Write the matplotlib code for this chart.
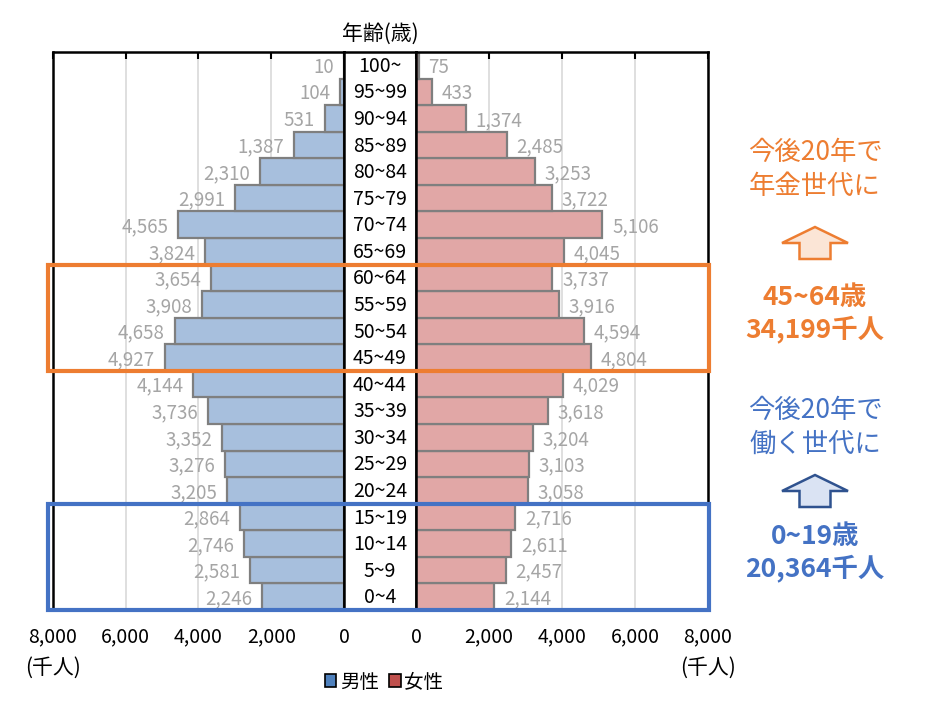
import matplotlib
matplotlib.use("Agg")
import matplotlib.pyplot as plt
from matplotlib.patches import Rectangle, Polygon, Patch
import numpy as np

plt.rcParams["font.family"] = ["Noto Sans CJK JP", "DejaVu Sans"]

# =====================================================
#                        Data
# =====================================================
age_groups = ["0~4", "5~9", "10~14", "15~19", "20~24", "25~29", "30~34",
              "35~39", "40~44", "45~49", "50~54", "55~59", "60~64", "65~69",
              "70~74", "75~79", "80~84", "85~89", "90~94", "95~99", "100~"]
male = [2246, 2581, 2746, 2864, 3205, 3276, 3352, 3736, 4144, 4927, 4658,
        3908, 3654, 3824, 4565, 2991, 2310, 1387, 531, 104, 10]
female = [2144, 2457, 2611, 2716, 3058, 3103, 3204, 3618, 4029, 4804, 4594,
          3916, 3737, 4045, 5106, 3722, 3253, 2485, 1374, 433, 75]
xticks = [0, 2000, 4000, 6000, 8000]

W, H = 929, 715
BLUE_BAR = "#A7BFDD"
PINK_BAR = "#E1A7A6"
EDGE = "#7F7F7F"
LABEL_GRAY = "#A5A5A5"
ORANGE = "#ED7D31"
BLUE = "#4472C4"


def fx(px):
    return px / W


def fy(py):
    return 1 - py / H


top, bottom = 52, 610
ax_h = (bottom - top) / H
fig = plt.figure(figsize=(W / 100, H / 100), dpi=100)
ax_l = fig.add_axes([fx(53), fy(bottom), fx(344) - fx(53), ax_h])
ax_c = fig.add_axes([fx(344), fy(bottom), fx(416) - fx(344), ax_h])
ax_r = fig.add_axes([fx(416), fy(bottom), fx(708) - fx(416), ax_h])

y = np.arange(len(age_groups))

# =====================================================
#                     Bars + labels
# =====================================================
for ax, vals, col, sign in [(ax_l, male, BLUE_BAR, -1), (ax_r, female, PINK_BAR, 1)]:
    ax.barh(y, vals, height=1.0, color=col, edgecolor=EDGE, linewidth=1.6, zorder=2)
    for yi, v in zip(y, vals):
        ax.annotate(f"{v:,}", (v, yi), xytext=(sign * 7, -1.5), textcoords="offset points",
                    ha="right" if sign < 0 else "left", va="center",
                    color=LABEL_GRAY, fontsize=13.5)
    ax.set_ylim(-0.5, len(age_groups) - 0.5)
    ax.set_xticks(xticks)
    ax.set_xticklabels([f"{t:,}" for t in xticks], fontsize=14)
    ax.set_yticks([])
    ax.grid(axis="x", color="#D9D9D9", linewidth=1.2, zorder=0)
    ax.set_axisbelow(True)
    ax.tick_params(axis="x", top=True, bottom=False, direction="in", length=5,
                   width=1.5, labelbottom=True, pad=12)
    for s in ax.spines.values():
        s.set_linewidth(1.8)
        s.set_color("black")

ax_l.set_xlim(8000, 0)
ax_r.set_xlim(0, 8000)

# centre column with age labels
ax_c.set_xlim(0, 1)
ax_c.set_ylim(-0.5, len(age_groups) - 0.5)
ax_c.set_xticks([])
ax_c.set_yticks([])
for s in ax_c.spines.values():
    s.set_linewidth(1.8)
for yi, a in zip(y, age_groups):
    ax_c.text(0.5, yi - 0.04, a, ha="center", va="center", fontsize=14, color="black")

fig.text(fx(380), fy(34), "年齢(歳)", ha="center", va="center", fontsize=15)
fig.text(fx(53), fy(668), "(千人)", ha="center", va="center", fontsize=15)
fig.text(fx(708), fy(668), "(千人)", ha="center", va="center", fontsize=15)

# legend
handles = [Patch(facecolor="#4F81BD", edgecolor="black", linewidth=1.2),
           Patch(facecolor="#C0504D", edgecolor="black", linewidth=1.2)]
fig.legend(handles, ["男性", "女性"], loc="center", bbox_to_anchor=(fx(384), fy(682)),
           ncol=2, frameon=False, handlelength=0.6, handleheight=0.6,
           handletextpad=0.2, columnspacing=0.5, fontsize=14)

# =====================================================
#              Highlight boxes (overlay)
# =====================================================
ax_o = fig.add_axes([fx(48), fy(bottom), fx(709) - fx(48), ax_h])
ax_o.set_xlim(0, 1)
ax_o.set_ylim(-0.5, len(age_groups) - 0.5)
ax_o.axis("off")
i45, i60 = age_groups.index("45~49"), age_groups.index("60~64")
i0, i15 = age_groups.index("0~4"), age_groups.index("15~19")
ax_o.add_patch(Rectangle((0, i45 - 0.5), 1, i60 - i45 + 1, fill=False,
                         edgecolor=ORANGE, linewidth=3, clip_on=False, zorder=5))
ax_o.add_patch(Rectangle((0, i0 - 0.5), 1, i15 - i0 + 1, fill=False,
                         edgecolor=BLUE, linewidth=3, clip_on=False, zorder=5))


# =====================================================
#              Right-side notes + arrows
# =====================================================
def up_arrow(cx, ytop, face, edge):
    pts = [(cx, ytop), (cx + 33, ytop + 16), (cx + 15.5, ytop + 16),
           (cx + 15.5, ytop + 32), (cx - 15.5, ytop + 32), (cx - 15.5, ytop + 16),
           (cx - 33, ytop + 16)]
    fig.patches.append(Polygon([(fx(px), fy(py)) for px, py in pts], closed=True,
                               transform=fig.transFigure, facecolor=face,
                               edgecolor=edge, linewidth=1.8))


cx = 815
fig.text(fx(cx), fy(152), "今後20年で", ha="center", va="center", color=ORANGE, fontsize=19)
fig.text(fx(cx), fy(186), "年金世代に", ha="center", va="center", color=ORANGE, fontsize=19)
up_arrow(cx, 227, "#FBE5D6", ORANGE)
fig.text(fx(cx), fy(297), "45~64歳", ha="center", va="center", color=ORANGE,
         fontsize=19, fontweight="bold")
fig.text(fx(cx), fy(329), "34,199千人", ha="center", va="center", color=ORANGE,
         fontsize=19, fontweight="bold")

fig.text(fx(cx), fy(411), "今後20年で", ha="center", va="center", color=BLUE, fontsize=19)
fig.text(fx(cx), fy(444), "働く世代に", ha="center", va="center", color=BLUE, fontsize=19)
up_arrow(cx, 475, "#DAE3F3", "#2F528F")
fig.text(fx(cx), fy(537), "0~19歳", ha="center", va="center", color=BLUE,
         fontsize=19, fontweight="bold")
fig.text(fx(cx), fy(568), "20,364千人", ha="center", va="center", color=BLUE,
         fontsize=19, fontweight="bold")

fig.savefig("out.png", dpi=100)
